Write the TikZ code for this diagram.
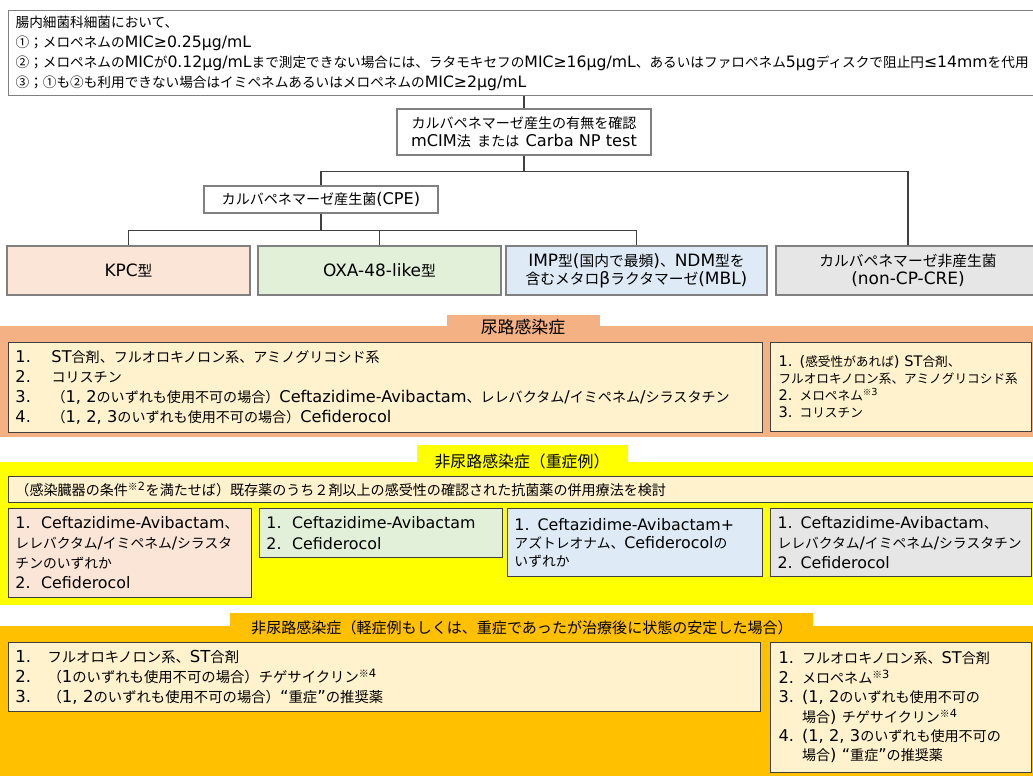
\documentclass[tikz,border=0pt]{standalone}
\usepackage{fontspec}
\setmainfont{DejaVu Sans}[Scale=1.15]
\newfontfamily\jpfont{Noto Sans CJK JP}
\newfontfamily\latinfont{DejaVu Sans}[Scale=1.15]
\usepackage{xcolor}
\usepackage{tikz}
% Japanese runs in Noto Sans CJK JP, Latin runs in DejaVu Sans
\XeTeXinterchartokenstate=1
\chardef\jpclass=7
\newcount\jpcode
\newcommand\setjprange[2]{\jpcode=#1\relax
  \loop\XeTeXcharclass\jpcode=\jpclass\relax
  \ifnum\jpcode<#2\relax\advance\jpcode by 1\relax\repeat}
\setjprange{"3000}{"30FF}
\setjprange{"4E00}{"9FFF}
\setjprange{"FF00}{"FFEF}
\setjprange{"2460}{"2473}
\XeTeXcharclass"203B=\jpclass
\XeTeXcharclass"2018=0 \XeTeXcharclass"2019=0
\XeTeXcharclass"201C=0 \XeTeXcharclass"201D=0
\XeTeXinterchartoks 0 \jpclass = {\jpfont}
\XeTeXinterchartoks 4095 \jpclass = {\jpfont}
\XeTeXinterchartoks \jpclass 0 = {\latinfont}
\XeTeXinterchartoks 4095 0 = {\latinfont}
\definecolor{utiorange}{HTML}{F4B183}
\definecolor{severeyellow}{HTML}{FFFF00}
\definecolor{mildamber}{HTML}{FFC000}
\definecolor{cream}{HTML}{FFF2CC}
\definecolor{kpcpeach}{HTML}{FBE5D6}
\definecolor{oxagreen}{HTML}{E2F0D9}
\definecolor{mblblue}{HTML}{DEEBF7}
\definecolor{cregray}{HTML}{E7E6E6}
\definecolor{linedark}{HTML}{404040}
\definecolor{linegray}{HTML}{808080}
\usetikzlibrary{calc}

\begin{document}
\begin{tikzpicture}[x=0.025cm, y=-0.025cm,
  treebox/.style={draw=linegray, line width=0.9pt, fill=white, align=center, inner sep=0pt, font=\fontsize{10}{12.8}\selectfont},
  typebox/.style={draw=linegray, line width=0.9pt, align=center, inner sep=0pt, minimum height=1.225cm, font=\fontsize{10.5}{12.8}\selectfont},
  listbox/.style={draw=linedark, line width=0.7pt, anchor=north west, align=left, inner xsep=0.175cm, inner ysep=0pt},
  bandlabel/.style={inner sep=0pt},
  link/.style={draw=linedark, line width=1.1pt}]
\useasboundingbox (0,0) rectangle (1033,776);
\clip (0,0) rectangle (1033,776);

% Draw the definition box and the test box
\node[treebox, anchor=north west, align=left, text width=25.45cm, inner xsep=0.175cm, minimum height=2.125cm, font=\fontsize{9.7}{14.2}\selectfont] (criteria) at (8,10) {腸内細菌科細菌において、\\
①；メロペネムのMIC≥0.25µg/mL\\
②；メロペネムのMICが0.12µg/mLまで測定できない場合には、ラタモキセフのMIC≥16µg/mL、あるいはファロペネム5µgディスクで阻止円≤14mmを代用\\
③；①も②も利用できない場合はイミペネムあるいはメロペネムのMIC≥2µg/mL};
\node[treebox, minimum width=6.35cm, minimum height=1.15cm] (mcim) at (524,132) {カルバペネマーゼ産生の有無を確認\\mCIM法\ \ または\ \ Carba NP test};
\node[treebox, minimum width=5.85cm, minimum height=0.675cm] (cpe) at (321,199.5) {カルバペネマーゼ産生菌(CPE)};

% Draw the enzyme types
\node[typebox, fill=kpcpeach, minimum width=6.075cm] (kpc) at (128.5,270.5) {KPC型};
\node[typebox, fill=oxagreen, minimum width=6.075cm] (oxa) at (379.5,270.5) {OXA-48-like型};
\node[typebox, fill=mblblue, minimum width=6.525cm] (mbl) at (636.5,270.5) {IMP型(国内で最頻)、NDM型を\\含むメタロβラクタマーゼ(MBL)};
\node[typebox, fill=cregray, minimum width=6.6cm] (noncp) at (908,270.5) {カルバペネマーゼ非産生菌\\(non-CP-CRE)};

% Draw the tree connectors
\draw[link] (criteria.south -| mcim.north) -- (mcim.north);
\draw[link] (mcim.south) -- ++(0,16) coordinate (split) -| (cpe.north);
\draw[link] (split) -| (noncp.north);
\draw[link] (cpe.south) -- ++(0,17) coordinate (splitcpe) -| (kpc.north);
\draw[link] (splitcpe) -| (oxa.north);
\draw[link] (splitcpe) -| (mbl.north);

% Draw the urinary tract band
\fill[utiorange] (0,326) rectangle (1033,437);
\fill[utiorange] (447,315) rectangle (600,327);
\node[bandlabel, font=\fontsize{12}{14}\selectfont] (utilabel) at (523,327) {尿路感染症};
\node[listbox, fill=cream, text width=18.5cm, minimum height=2.25cm, font=\fontsize{10}{14.2}\selectfont] (utiA) at (8,342) {%
\makebox[0.9cm][l]{1.}ST合剤、フルオロキノロン系、アミノグリコシド系\\
\makebox[0.9cm][l]{2.}コリスチン\\
\makebox[0.9cm][l]{3.}（1, 2のいずれも使用不可の場合）Ceftazidime-Avibactam、レレバクタム/イミペネム/シラスタチン\\
\makebox[0.9cm][l]{4.}（1, 2, 3のいずれも使用不可の場合）Cefiderocol};
\node[listbox, fill=cream, text width=6.125cm, inner xsep=0.2cm, minimum height=2.225cm, font=\fontsize{9}{12}\selectfont] (utiB) at (770,342) {%
1. (感受性があれば) ST合剤、\\
フルオロキノロン系、アミノグリコシド系\\
2. メロペネム\textsuperscript{※3}\\
3. コリスチン};

% Draw the severe non-urinary band
\fill[severeyellow] (0,462) rectangle (1033,605);
\fill[severeyellow] (417,445) rectangle (628,463);
\node[bandlabel, font=\fontsize{11.3}{13}\selectfont] (severelabel) at (522,461) {非尿路感染症（重症例）};
\node[listbox, fill=cream, text width=25.45cm, minimum height=0.65cm, font=\fontsize{10}{12}\selectfont] (combo) at (8,476) {（感染臓器の条件\textsuperscript{※2}を満たせば）既存薬のうち２剤以上の感受性の確認された抗菌薬の併用療法を検討};
\node[listbox, fill=kpcpeach, text width=5.725cm, minimum height=2.225cm, font=\fontsize{9.8}{14.2}\selectfont] (severeA) at (8,508) {%
1.\ \ Ceftazidime-Avibactam、\\
レレバクタム/イミペネム/シラスタ\\
チンのいずれか\\
2.\ \ Cefiderocol};
\node[listbox, fill=oxagreen, text width=5.725cm, minimum height=1.225cm, font=\fontsize{9.8}{14.9}\selectfont] (severeB) at (259,508) {%
1.\ \ Ceftazidime-Avibactam\\
2.\ \ Cefiderocol};
\node[listbox, fill=mblblue, text width=6.025cm, minimum height=1.7cm, font=\fontsize{9.8}{12.8}\selectfont] (severeC) at (507,508) {%
1. Ceftazidime-Avibactam+\\
アズトレオナム、Cefiderocolの\\
いずれか};
\node[listbox, fill=cregray, text width=6.175cm, minimum height=1.7cm, font=\fontsize{9.8}{14.2}\selectfont] (severeD) at (770,508) {%
1. Ceftazidime-Avibactam、\\
レレバクタム/イミペネム/シラスタチン\\
2. Cefiderocol};

% Draw the mild non-urinary band
\fill[mildamber] (0,626) rectangle (1033,776);
\fill[mildamber] (230,613) rectangle (813,627);
\node[bandlabel, font=\fontsize{10.7}{13}\selectfont] (mildlabel) at (522,628) {非尿路感染症（軽症例もしくは、重症であったが治療後に状態の安定した場合）};
\node[listbox, fill=cream, text width=18.45cm, minimum height=1.725cm, font=\fontsize{10.2}{14.2}\selectfont] (mildA) at (8,642) {%
\makebox[0.8cm][l]{1.}フルオロキノロン系、ST合剤\\
\makebox[0.8cm][l]{2.}（1のいずれも使用不可の場合）チゲサイクリン\textsuperscript{※4}\\
\makebox[0.8cm][l]{3.}（1, 2のいずれも使用不可の場合）“重症”の推奨薬};
\node[listbox, fill=cream, text width=6.125cm, inner xsep=0.2cm, minimum height=3.25cm, font=\fontsize{10}{13.8}\selectfont] (mildB) at (770,642) {%
1. フルオロキノロン系、ST合剤\\
2. メロペネム\textsuperscript{※3}\\
3. (1, 2のいずれも使用不可の\\
\phantom{3. }場合) チゲサイクリン\textsuperscript{※4}\\
4. (1, 2, 3のいずれも使用不可の\\
\phantom{4. }場合) “重症”の推奨薬};
\end{tikzpicture}
\end{document}
